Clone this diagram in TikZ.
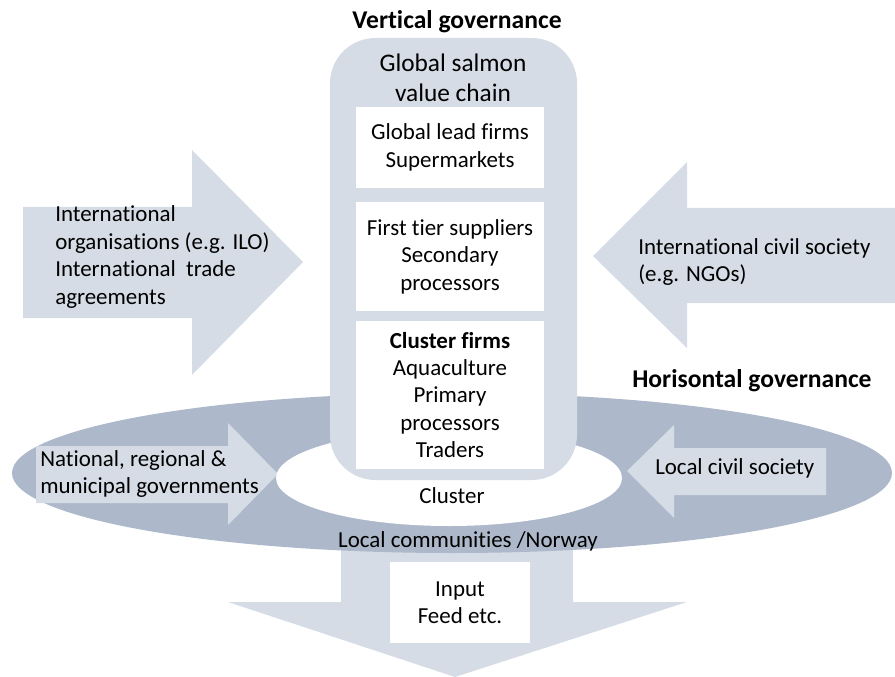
\documentclass[tikz,border=0pt]{standalone}
\usepackage{fontspec}
\setmainfont{Carlito}[Ligatures=NoCommon]
\definecolor{chainblue}{HTML}{D6DCE5}
\definecolor{localblue}{HTML}{ADB9CA}
\begin{document}
\begin{tikzpicture}[x=0.75pt, y=-0.75pt,
    txt/.style={font=\fontsize{17.2}{20.6}\selectfont, inner sep=0pt, align=center},
    head/.style={font=\fontsize{19.2}{22}\selectfont\bfseries, inner sep=0pt},
    firmbox/.style={fill=white, txt, minimum width=141pt}]
    \useasboundingbox (0,0) rectangle (895,677);

    % International arrows
    \fill[chainblue] (23,207) -- (192,207) -- (192,150) -- (303,262) -- (192,375) -- (192,318) -- (23,318) -- cycle;
    \fill[chainblue] (895,208) -- (687,208) -- (687,162) -- (593,256) -- (687,348) -- (687,303) -- (895,303) -- cycle;

    % Input arrow
    \fill[chainblue] (341,540) -- (573,540) -- (573,602) -- (687,602) -- (455,677) -- (228,602) -- (341,602) -- cycle;

    % Local communities
    \fill[localblue] (452,473) ellipse [x radius=440, y radius=80];
    \fill[chainblue] (36,446) -- (228,446) -- (228,423) -- (278,474) -- (228,525) -- (228,503) -- (36,503) -- cycle;
    \fill[chainblue] (826,448) -- (674,448) -- (674,425) -- (627,471) -- (674,518) -- (674,495) -- (826,495) -- cycle;
    \fill[white] (449,478) ellipse [x radius=173, y radius=48];

    % Value chain
    \fill[chainblue, rounded corners=34pt] (330,38) rectangle (577,480);
    \node[head] (vertical) at (457,22) {Vertical governance};
    \node[txt, font=\fontsize{19}{22.5}\selectfont] (chain) at (453,78) {Global salmon\\value chain};
    \node[firmbox, minimum height=60.75pt] (lead) at (450,147.5) {Global lead firms\\Supermarkets};
    \node[firmbox, minimum height=81.75pt] (tier) at (450,256.5) {First tier suppliers\\Secondary\\processors};
    \node[firmbox, minimum height=111pt] (cluster firms) at (450,395) {\textbf{Cluster firms}\\Aquaculture\\Primary\\processors\\Traders};

    % Labels
    \node[txt, align=left, anchor=west] (intorg) at (55,257) {International\\organisations (e.g. ILO)\\International\ \ trade\\agreements};
    \node[txt, align=left, anchor=west] (ngo) at (638,262) {International civil society\\(e.g. NGOs)};
    \node[head, anchor=west] (horisontal) at (632,381) {Horisontal governance};
    \node[txt, align=left, anchor=west] (gov) at (40,474) {National, regional \&\\municipal governments};
    \node[txt, anchor=west] (civil) at (655,468) {Local civil society};
    \node[txt] (cluster) at (452,496) {Cluster};
    \node[txt] (local) at (468,541) {Local communities /Norway};
    \node[firmbox, minimum width=105pt, minimum height=60.75pt] (input) at (460,602.5) {Input\\Feed etc.};
\end{tikzpicture}
\end{document}
